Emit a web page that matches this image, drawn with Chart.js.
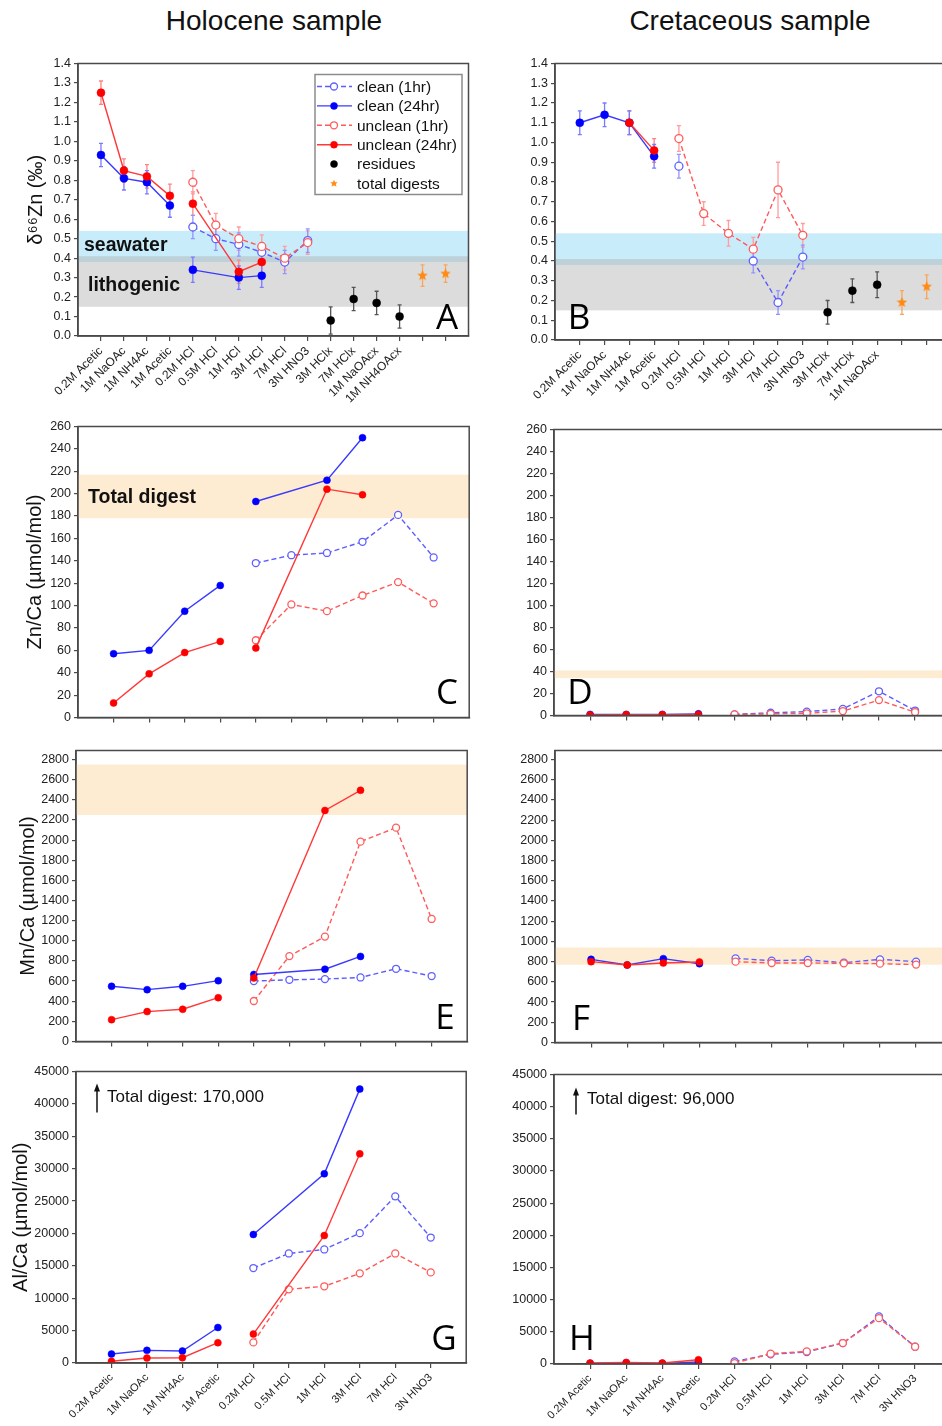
<!DOCTYPE html>
<html lang="en">
<head>
<meta charset="UTF-8" />
<title>Zn leaching – Holocene vs Cretaceous sample</title>
<script src="https://cdn.jsdelivr.net/npm/chart.js@4.4.0/dist/chart.umd.min.js"></script>
<style>
html,body{margin:0;overflow:hidden}
body{background:#fff;width:942px;height:1426px;position:relative;font-family:"Liberation Sans",Arial,sans-serif}
canvas{position:absolute}
.hd{position:absolute;top:5px;font-size:28px;line-height:32px;color:#111;transform:translateX(-50%);white-space:nowrap}
</style>
</head>
<body>
<div class="hd" style="left:274px">Holocene sample</div>
<div class="hd" style="left:750px">Cretaceous sample</div>

<script>
/* ---------- data ---------- */
const STEPS = ['0.2M Acetic','1M NaOAc','1M NH4Ac','1M Acetic','0.2M HCl','0.5M HCl','1M HCl','3M HCl','7M HCl','3N HNO3'];
const RESID_HOL = ['3M HClx','7M HClx','1M NaOAcx','1M NH4OAcx'];
const RESID_CRE = ['3M HClx','7M HClx','1M NaOAcx'];

// band ranges
const SEAWATER = [0.38, 0.54];
const LITHOGENIC = [0.15, 0.41];
const ZNCA_TOTAL_HOL = [178, 217], ZNCA_TOTAL_CRE = [34, 41];
const MNCA_TOTAL_HOL = [2250, 2750], MNCA_TOTAL_CRE = [770, 940];

// A: d66Zn, Holocene  (pre-HCl steps at 1-4, HCl steps at 5-10)
const holZnC24 = [0.93,0.81,0.79,0.67],      holZnC24e = [0.06,0.06,0.06,0.06];
const holZnC24H = [0.34,null,0.30,0.31],     holZnC24He = [0.065,null,0.06,0.06];
const holZnU24 = [1.25,0.85,0.82,0.72],      holZnU24e = [0.06,0.06,0.06,0.06];
const holZnU24H = [0.68,null,0.33,0.38],     holZnU24He = [0.06,null,0.06,0.06];
const holZnC1 = [0.56,0.50,0.47,0.43,0.38,0.49], holZnC1e = [0.06,0.06,0.06,0.05,0.06,0.06];
const holZnU1 = [0.79,0.57,0.50,0.46,0.40,0.48], holZnU1e = [0.06,0.06,0.06,0.06,0.06,0.06];
const holZnRes = [0.08,0.19,0.17,0.10],      holZnResE = [0.07,0.06,0.06,0.06];
const holZnTot = [0.31,0.32],                holZnTotE = [0.055,0.045];

// B: d66Zn, Cretaceous
const creZnC24 = [1.10,1.14,1.10,0.93],      creZnC24e = [0.06,0.06,0.06,0.06];
const creZnU24 = [null,null,1.10,0.96],      creZnU24e = [null,null,0.06,0.06];
const creZnC1 = [0.88,null,null,0.40,0.19,0.42], creZnC1e = [0.06,null,null,0.06,0.06,0.06];
const creZnU1 = [1.02,0.64,0.54,0.46,0.76,0.53], creZnU1e = [0.065,0.06,0.065,0.06,0.14,0.06];
const creZnRes = [0.14,0.25,0.28],           creZnResE = [0.06,0.06,0.065];
const creZnTot = [0.19,0.27],                creZnTotE = [0.06,0.06];

// C/D: Zn/Ca
const holZnCaC24 = [57,60,95,118],  holZnCaC24H = [193,null,212,250];
const holZnCaU24 = [13,39,58,68],   holZnCaU24H = [62,null,204,199];
const holZnCaC1 = [138,145,147,157,181,143];
const holZnCaU1 = [69,101,95,109,121,102];
const creZnCaC24 = [1,1,1,1.5];
const creZnCaU24 = [0.5,0.8,0.8,1];
const creZnCaC1 = [1,2.5,3.5,6,22,4.5];
const creZnCaU1 = [1,1.5,2,4,14,3];

// E/F: Mn/Ca
const holMnCaC24 = [548,515,548,604], holMnCaC24H = [666,null,718,845];
const holMnCaU24 = [217,297,320,435], holMnCaU24H = [630,null,2295,2495];
const holMnCaC1 = [600,613,620,636,722,650];
const holMnCaU1 = [402,848,1042,1985,2124,1217];
const creMnCaC24 = [823,767,830,780];
const creMnCaU24 = [800,767,787,797];
const creMnCaC1 = [833,810,817,790,823,800];
const creMnCaU1 = [800,787,787,784,780,771];

// G/H: Al/Ca
const holAlCaC24 = [1380,1950,1850,5480], holAlCaC24H = [19840,null,29210,42280];
const holAlCaU24 = [260,770,820,3130],    holAlCaU24H = [4460,null,19680,32290];
const holAlCaC1 = [14660,16910,17530,20040,25730,19370];
const holAlCaU1 = [3180,11380,11840,13840,16910,13990];
const creAlCaC24 = [100,200,100,300];
const creAlCaU24 = [150,250,150,650];
const creAlCaC1 = [400,1500,1860,3260,7390,2690];
const creAlCaU1 = [150,1600,1960,3260,7130,2690];

/* ---------- styles ---------- */
const FONT = '"Liberation Sans", Arial, sans-serif';
function starImg(size,color){
  const c=document.createElement('canvas');c.width=c.height=size;
  const g=c.getContext('2d');g.fillStyle=color;g.beginPath();
  for(let i=0;i<10;i++){const r=i%2?size*0.22:size*0.5,a=-Math.PI/2+i*Math.PI/5;
    g.lineTo(size/2+r*Math.cos(a),size/2+r*Math.sin(a));}
  g.closePath();g.fill();return c;
}
const STAR = starImg(11,'#ff8a14');
const STY = {
  c1 :{label:'clean (1hr)',    line:'#5c5cff', bg:'#ffffff', pb:'#6060ff', dash:[5,3], err:'#9494ff', order:4},
  c24:{label:'clean (24hr)',   line:'#3a3aff', bg:'#0000ff', pb:'#0000ff', dash:[],    err:'#7a7aff', order:2},
  u1 :{label:'unclean (1hr)',  line:'#ff5a5a', bg:'#ffffff', pb:'#ff5c5c', dash:[5,3], err:'#ff9c9c', order:3},
  u24:{label:'unclean (24hr)', line:'#ff3838', bg:'#ff0000', pb:'#ff0000', dash:[],    err:'#ff8282', order:1},
  res:{label:'residues',       bg:'#000000', pb:'#000000', err:'#555555', noLine:true, order:0},
  tot:{label:'total digests',  star:true, err:'#f7a65c', noLine:true, order:0}
};

function ser(k,x0,ys,err,r,gaps){
  const s=STY[k];
  return {data:ys.map((y,i)=>({x:x0+i,y})), err:err||null, errColor:s.err,
    showLine:!s.noLine, borderColor:s.line||s.pb||'#000', borderWidth:1.4, borderDash:s.dash||[],
    pointStyle:s.star?STAR:'circle', pointRadius:r, pointHoverRadius:r,
    pointBackgroundColor:s.bg||'#fff', pointBorderColor:s.pb||'#000',
    pointBorderWidth:s.bg==='#ffffff'?1.3:0.5, spanGaps:gaps!==false, order:s.order, tension:0};
}

/* ---------- drawing helpers (bands, error bars, frame, notes, legend) ---------- */
function deco(cfg){
  return {id:'deco',
    beforeDatasetsDraw(ch){
      const {ctx,chartArea:a,scales:{x,y}}=ch;
      ctx.save();ctx.beginPath();ctx.rect(a.left,a.top,a.right-a.left,a.bottom-a.top);ctx.clip();
      (cfg.bands||[]).forEach(b=>{
        const y1=y.getPixelForValue(b.to),y2=y.getPixelForValue(b.from);
        ctx.fillStyle=b.color;ctx.fillRect(a.left,y1,a.right-a.left,y2-y1);
      });
      ch.data.datasets.forEach(ds=>{
        if(!ds.err)return;
        ctx.strokeStyle=ds.errColor;ctx.lineWidth=1.3;
        ds.data.forEach((p,j)=>{
          if(p.y==null||ds.err[j]==null)return;
          const px=x.getPixelForValue(p.x),t=y.getPixelForValue(p.y+ds.err[j]),b=y.getPixelForValue(p.y-ds.err[j]);
          ctx.beginPath();ctx.moveTo(px,t);ctx.lineTo(px,b);
          ctx.moveTo(px-2,t);ctx.lineTo(px+2,t);ctx.moveTo(px-2,b);ctx.lineTo(px+2,b);ctx.stroke();
        });
      });
      ctx.restore();
    },
    afterDraw(ch){
      const {ctx,chartArea:a}=ch;
      ctx.save();
      ctx.strokeStyle='#4a4a4a';ctx.lineWidth=1.5;
      ctx.strokeRect(a.left,a.top,a.right-a.left,a.bottom-a.top);
      (cfg.notes||[]).forEach(n=>{
        ctx.font=n.f;ctx.fillStyle='#111';ctx.textAlign='left';ctx.textBaseline='middle';
        ctx.fillText(n.t,a.left+n.x,a.top+n.y);
      });
      if(cfg.arrow){
        const {x:ax,y1,y2}=cfg.arrow,X=a.left+ax;
        ctx.strokeStyle='#111';ctx.lineWidth=1.5;ctx.beginPath();
        ctx.moveTo(X,a.top+y2);ctx.lineTo(X,a.top+y1+5);ctx.stroke();
        ctx.fillStyle='#111';ctx.beginPath();
        ctx.moveTo(X,a.top+y1);ctx.lineTo(X-3,a.top+y1+8);ctx.lineTo(X+3,a.top+y1+8);ctx.closePath();ctx.fill();
      }
      if(cfg.letter){
        ctx.font='35px "Open Sans", '+FONT;ctx.fillStyle='#000';ctx.textAlign='center';ctx.textBaseline='alphabetic';
        ctx.fillText(cfg.letter.t,a.left+cfg.letter.x,a.top+cfg.letter.y);
      }
      if(cfg.legend){
        const L=cfg.legend,x0=a.left+L.x,y0=a.top+L.y;
        ctx.fillStyle='#fff';ctx.fillRect(x0,y0,L.w,L.h);
        ctx.strokeStyle='#8c8c8c';ctx.lineWidth=1.5;ctx.strokeRect(x0,y0,L.w,L.h);
        L.rows.forEach((k,i)=>{
          const s=STY[k],cy=y0+L.dy0+i*L.dy,mx=x0+19;
          if(!s.noLine){
            ctx.setLineDash(s.dash);ctx.strokeStyle=s.line;ctx.lineWidth=1.4;
            ctx.beginPath();ctx.moveTo(x0+2,cy);ctx.lineTo(x0+37,cy);ctx.stroke();ctx.setLineDash([]);
          }
          if(s.star){ctx.drawImage(STAR,mx-4,cy-4,8,8);}
          else{
            ctx.beginPath();ctx.arc(mx,cy,3.5,0,Math.PI*2);ctx.fillStyle=s.bg;ctx.fill();
            ctx.strokeStyle=s.pb;ctx.lineWidth=s.bg==='#ffffff'?1.3:0.5;ctx.stroke();
          }
          ctx.font='15.5px '+FONT;ctx.fillStyle='#111';ctx.textAlign='left';ctx.textBaseline='middle';
          ctx.fillText(s.label,x0+42,cy+1);
        });
      }
      ctx.restore();
    }
  };
}

/* ---------- one panel = one chart ---------- */
function panel(box,o){
  const [L,T,R,B]=box,yW=o.yW,xH=o.xH,padT=10,padR=4;
  const cv=document.createElement('canvas');
  cv.width=yW+(R-L)+padR;cv.height=padT+(B-T)+xH;
  cv.style.left=(L-yW)+'px';cv.style.top=(T-padT)+'px';
  document.body.appendChild(cv);
  const xl=o.xLabels;
  const tickFont={family:FONT,size:12.5};
  new Chart(cv,{
    type:'line',
    data:{datasets:o.datasets},
    options:{
      responsive:false,animation:false,events:[],
      layout:{padding:{left:0,top:padT,right:padR,bottom:0}},
      plugins:{legend:{display:false},tooltip:{enabled:false}},
      scales:{
        x:{type:'linear',min:0,max:o.nx+1,
          afterBuildTicks:ax=>{ax.ticks=o.xPos.map(v=>({value:v}));},
          afterFit:ax=>{ax.height=xH;},
          ticks:{display:!!o.showX,autoSkip:false,minRotation:45,maxRotation:45,padding:3,
            font:{family:FONT,size:o.xFont||12},color:'#222',callback:v=>xl[v-1]||''},
          grid:{drawOnChartArea:false,drawTicks:true,tickLength:5,color:'#4a4a4a',lineWidth:1.2},
          border:{display:true,color:'#4a4a4a',width:1.5}},
        y:{min:o.ymin,max:o.ymax,
          afterFit:ax=>{ax.width=yW;},
          ticks:{stepSize:o.ystep,includeBounds:false,maxTicksLimit:40,padding:3,font:tickFont,color:'#222',
            callback:o.yfmt},
          grid:{drawOnChartArea:false,drawTicks:true,tickLength:4,color:'#4a4a4a',lineWidth:1.2},
          border:{display:true,color:'#4a4a4a',width:1.5},
          title:{display:!!o.ytitle,text:o.ytitle,font:{family:FONT,size:20},color:'#111',
            padding:{top:o.yTitlePad||0,bottom:0}}}
      }
    },
    plugins:[deco(o)]
  });
}

const fmt1=v=>v.toFixed(1), fmt0=v=>String(v);
const labA=STEPS.concat(RESID_HOL,['','']), labB=STEPS.concat(RESID_CRE,['','']);
const pos=n=>Array.from({length:n},(_,i)=>i+1);
const BOLD='bold 19.5px '+FONT;

// A
panel([78,63,470,336],{yW:78,xH:80,nx:16,xPos:pos(16),xLabels:labA,showX:true,
  ymin:0,ymax:1.4,ystep:0.1,yfmt:fmt1,ytitle:'δ⁶⁶Zn (‰)',yTitlePad:24,
  bands:[{from:SEAWATER[0],to:SEAWATER[1],color:'#c8ecfa'},{from:LITHOGENIC[0],to:LITHOGENIC[1],color:'rgba(178,178,178,0.45)'}],
  notes:[{t:'seawater',x:6,y:182,f:BOLD},{t:'lithogenic',x:10,y:222,f:BOLD}],
  letter:{t:'A',x:369,y:265},
  legend:{x:237,y:11,w:147,h:120,dy0:12,dy:19.4,rows:['c1','c24','u1','u24','res','tot']},
  datasets:[
    ser('u24',1,holZnU24,holZnU24e,4),ser('u24',5,holZnU24H,holZnU24He,4),
    ser('c24',1,holZnC24,holZnC24e,4),ser('c24',5,holZnC24H,holZnC24He,4),
    ser('u1',5,holZnU1,holZnU1e,4),ser('c1',5,holZnC1,holZnC1e,4),
    ser('res',11,holZnRes,holZnResE,4),ser('tot',15,holZnTot,holZnTotE,5)]});

// B
panel([555,63,953,340],{yW:80,xH:80,nx:15,xPos:pos(15),xLabels:labB,showX:true,
  ymin:0,ymax:1.4,ystep:0.1,yfmt:fmt1,
  bands:[{from:SEAWATER[0],to:SEAWATER[1],color:'#c8ecfa'},{from:LITHOGENIC[0],to:LITHOGENIC[1],color:'rgba(178,178,178,0.45)'}],
  letter:{t:'B',x:24,y:265},
  datasets:[
    ser('u24',1,creZnU24,creZnU24e,4,false),ser('c24',1,creZnC24,creZnC24e,4),
    ser('u1',5,creZnU1,creZnU1e,4),ser('c1',5,creZnC1,creZnC1e,4,false),
    ser('res',11,creZnRes,creZnResE,4),ser('tot',14,creZnTot,creZnTotE,5)]});

// C
panel([78,426,470,718],{yW:78,xH:10,nx:10,xPos:pos(10),xLabels:STEPS,
  ymin:0,ymax:260,ystep:20,yfmt:fmt0,ytitle:'Zn/Ca (µmol/mol)',yTitlePad:23,
  bands:[{from:ZNCA_TOTAL_HOL[0],to:ZNCA_TOTAL_HOL[1],color:'#fdebd2'}],
  notes:[{t:'Total digest',x:10,y:71,f:BOLD}],
  letter:{t:'C',x:369,y:277},
  datasets:[
    ser('u24',1,holZnCaU24,null,3.5),ser('u24',5,holZnCaU24H,null,3.5),
    ser('c24',1,holZnCaC24,null,3.5),ser('c24',5,holZnCaC24H,null,3.5),
    ser('u1',5,holZnCaU1,null,3.5),ser('c1',5,holZnCaC1,null,3.5)]});

// D
panel([554,429,952,716],{yW:80,xH:10,nx:10,xPos:pos(10),xLabels:STEPS,
  ymin:0,ymax:260,ystep:20,yfmt:fmt0,
  bands:[{from:ZNCA_TOTAL_CRE[0],to:ZNCA_TOTAL_CRE[1],color:'#fdebd2'}],
  letter:{t:'D',x:26,y:274},
  datasets:[
    ser('c24',1,creZnCaC24,null,3.5),ser('u24',1,creZnCaU24,null,3.5),
    ser('u1',5,creZnCaU1,null,3.5),ser('c1',5,creZnCaC1,null,3.5)]});

// E
panel([76,750,468,1042],{yW:76,xH:10,nx:10,xPos:pos(10),xLabels:STEPS,
  ymin:0,ymax:2890,ystep:200,yfmt:fmt0,ytitle:'Mn/Ca (µmol/mol)',yTitlePad:16,
  bands:[{from:MNCA_TOTAL_HOL[0],to:MNCA_TOTAL_HOL[1],color:'#fdebd2'}],
  letter:{t:'E',x:369,y:278},
  datasets:[
    ser('u24',1,holMnCaU24,null,3.5),ser('u24',5,holMnCaU24H,null,3.5),
    ser('c24',1,holMnCaC24,null,3.5),ser('c24',5,holMnCaC24H,null,3.5),
    ser('u1',5,holMnCaU1,null,3.5),ser('c1',5,holMnCaC1,null,3.5)]});

// F
panel([555,750,953,1043],{yW:80,xH:10,nx:10,xPos:pos(10),xLabels:STEPS,
  ymin:0,ymax:2890,ystep:200,yfmt:fmt0,
  bands:[{from:MNCA_TOTAL_CRE[0],to:MNCA_TOTAL_CRE[1],color:'#fdebd2'}],
  letter:{t:'F',x:26,y:279},
  datasets:[
    ser('u24',1,creMnCaU24,null,3.5),ser('c24',1,creMnCaC24,null,3.5),
    ser('u1',5,creMnCaU1,null,3.5),ser('c1',5,creMnCaC1,null,3.5)]});

// G
panel([76,1071,467,1363],{yW:76,xH:62,nx:10,xPos:pos(10),xLabels:STEPS,showX:true,xFont:11,
  ymin:0,ymax:45000,ystep:5000,yfmt:fmt0,ytitle:'Al/Ca (µmol/mol)',yTitlePad:9,
  notes:[{t:'Total digest: 170,000',x:31,y:26,f:'17px '+FONT}],arrow:{x:21,y1:12,y2:41},
  letter:{t:'G',x:368,y:278},
  datasets:[
    ser('u24',1,holAlCaU24,null,3.5),ser('u24',5,holAlCaU24H,null,3.5),
    ser('c24',1,holAlCaC24,null,3.5),ser('c24',5,holAlCaC24H,null,3.5),
    ser('u1',5,holAlCaU1,null,3.5),ser('c1',5,holAlCaC1,null,3.5)]});

// H
panel([554,1074,952,1364],{yW:80,xH:62,nx:10,xPos:pos(10),xLabels:STEPS,showX:true,xFont:11,
  ymin:0,ymax:45000,ystep:5000,yfmt:fmt0,
  notes:[{t:'Total digest: 96,000',x:33,y:25,f:'17px '+FONT}],arrow:{x:22,y1:13,y2:40},
  letter:{t:'H',x:28,y:275},
  datasets:[
    ser('c24',1,creAlCaC24,null,3.5),ser('u24',1,creAlCaU24,null,3.5),
    ser('c1',5,creAlCaC1,null,3.5),ser('u1',5,creAlCaU1,null,3.5)]});
</script>
</body>
</html>
